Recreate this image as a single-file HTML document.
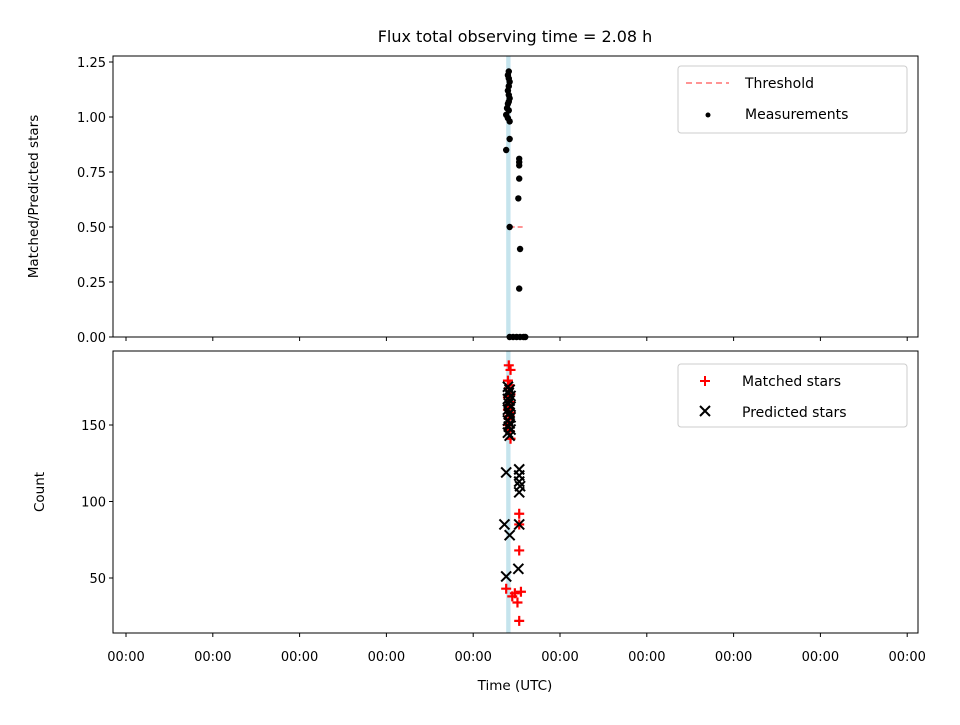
<!DOCTYPE html>
<html><head><meta charset="utf-8"><style>
body{margin:0;background:#fff}
svg{font-family:"DejaVu Sans","Liberation Sans",sans-serif}
</style></head><body>
<svg id="c" width="960" height="720" viewBox="0 0 960 720"></svg>
<script>
// x values: minutes relative to first tick (tick spacing = 10)
const tickVals=[0,10,20,30,40,50,60,70,80,90];
const tickLabels=["00:00","00:00","00:00","00:00","00:00","00:00","00:00","00:00","00:00","00:00"];
const topTicks=[0,0.25,0.5,0.75,1.0,1.25];
const topTickLabels=["0.00","0.25","0.50","0.75","1.00","1.25"];
const botTicks=[50,100,150];
const measX=[44.1,44.0,44.1,44.2,44.1,44.0,44.1,44.2,44.1,44.0,43.9,44.1,43.8,44.0,44.2,44.2,43.8,45.3,45.3,45.3,45.3,45.2,44.2,45.4,45.3,44.2,44.6,45.0,45.4,45.8,46.0];
const measY=[1.207,1.19,1.175,1.16,1.14,1.12,1.10,1.085,1.07,1.06,1.04,1.03,1.01,0.995,0.98,0.90,0.85,0.81,0.795,0.78,0.72,0.63,0.50,0.40,0.22,0,0,0,0,0,0];
const threshX=[44.2,45.7];
const threshY=[0.5,0.5];
const matchedX=[44.1,44.3,44.0,44.2,44.1,44.3,44.0,44.2,44.1,44.0,44.3,44.2,44.1,44.0,44.2,45.3,45.3,45.3,43.8,44.5,45.5,45.1,45.3,44.8,44.3];
const matchedY=[189,186,179,176,174,170,168,165,163,160,158,156,154,150,146,92,85,68,43,38,41,34,22,40,141];
const predX=[44.0,44.2,44.1,44.3,44.0,44.2,44.1,44.3,44.0,44.2,44.1,44.3,44.0,44.2,44.1,44.3,44.0,44.2,43.8,45.3,45.3,45.3,45.4,45.3,43.6,45.3,44.2,45.2,43.8];
const predY=[175,173,171,169,167,166,164,162,160,158,157,155,153,151,149,147,145,143,119,121,117,113,110,106,85,85,78,56,51];
const bandX=[43.8,44.3];

const svg=document.getElementById('c');
const NS='http://www.w3.org/2000/svg';
function mk(tag,attrs,parent){const e=document.createElementNS(NS,tag);for(const k in attrs)e.setAttribute(k,attrs[k]);(parent||svg).appendChild(e);return e;}
const xS=v=>126+v*8.68;
const L=113,R=918;
const tT=56,tB=337,bT=351,bB=633;
const yTop=v=>337-v*220;
const yBot=v=>425-(v-150)*1.53;

let t=mk('text',{x:515,y:42,'text-anchor':'middle','font-size':'16'});t.textContent='Flux total observing time = 2.08 h';


[[tT,tB,'top'],[bT,bB,'bottom']].forEach(([a,b,n])=>{
  const g=mk('g',{});
  const band=mk('rect',{x:xS(bandX[0]),y:a,width:xS(bandX[1])-xS(bandX[0]),height:b-a,fill:'#add8e6',opacity:0.7},g);
  
  tickVals.forEach((v,i)=>{
    mk('line',{x1:xS(v),x2:xS(v),y1:b,y2:b+4,stroke:'#000'},g);
    if(n==='bottom'){const tx=mk('text',{x:xS(v),y:b+28,'text-anchor':'middle','font-size':'13'},g);tx.textContent=tickLabels[i];
      }
  });
});
topTicks.forEach((v,i)=>{mk('line',{x1:L-4,x2:L,y1:yTop(v),y2:yTop(v),stroke:'#000'});
  const tx=mk('text',{x:L-7,y:yTop(v)+5,'text-anchor':'end','font-size':'13'});tx.textContent=topTickLabels[i];
  });
botTicks.forEach(v=>{mk('line',{x1:L-4,x2:L,y1:yBot(v),y2:yBot(v),stroke:'#000'});
  const tx=mk('text',{x:L-7,y:yBot(v)+5,'text-anchor':'end','font-size':'13'});tx.textContent=String(v);
  });

const th=mk('line',{x1:xS(threshX[0]),x2:xS(threshX[1]),y1:yTop(threshY[0]),y2:yTop(threshY[1]),stroke:'#ff7070','stroke-width':1.5,'stroke-dasharray':'5,3'});

measX.forEach((v,i)=>{const c=mk('circle',{cx:xS(v),cy:yTop(measY[i]),r:3.2,fill:'#000'});
  });
matchedX.forEach((v,i)=>{const x=xS(v),y=yBot(matchedY[i]);
  const p=mk('path',{d:`M${x-5},${y}H${x+5}M${x},${y-5}V${y+5}`,stroke:'#f00','stroke-width':2.2});
  });
predX.forEach((v,i)=>{const x=xS(v),y=yBot(predY[i]);
  const p=mk('path',{d:`M${x-5},${y-5}L${x+5},${y+5}M${x-5},${y+5}L${x+5},${y-5}`,stroke:'#000','stroke-width':2});
  });

[[tT,tB,'top'],[bT,bB,'bottom']].forEach(([a,b,n])=>{const r=mk('rect',{x:L,y:a,width:R-L,height:b-a,fill:'none',stroke:'#000','stroke-width':1});
  });

let yl=mk('text',{x:0,y:0,'text-anchor':'middle','font-size':'13.5',transform:`translate(38,${(tT+tB)/2}) rotate(-90)`});yl.textContent='Matched/Predicted stars';

let yl2=mk('text',{x:0,y:0,'text-anchor':'middle','font-size':'13.5',transform:`translate(44,${(bT+bB)/2}) rotate(-90)`});yl2.textContent='Count';

let xl=mk('text',{x:515,y:690,'text-anchor':'middle','font-size':'13.5'});xl.textContent='Time (UTC)';


function legend(y0,h,name,items){const g=mk('g',{});
  mk('rect',{x:678,y:y0,width:229,height:h,rx:3,fill:'#fff',stroke:'#ccc'},g);
  items.forEach((it,i)=>{const cy=y0+17+i*31;it.draw(g,cy);
    const tx=mk('text',{x:it.tx,y:cy+5,'font-size':'14'},g);tx.textContent=it.label;
    });}
legend(66,67,'top-legend',[
 {label:'Threshold',tx:745,draw:(g,y)=>mk('line',{x1:686,x2:729,y1:y,y2:y,stroke:'#ff7070','stroke-width':1.5,'stroke-dasharray':'6,4'},g)},
 {label:'Measurements',tx:745,draw:(g,y)=>mk('circle',{cx:708,cy:y+1,r:2.5,fill:'#000'},g)}]);
legend(364,63,'bottom-legend',[
 {label:'Matched stars',tx:742,draw:(g,y)=>mk('path',{d:`M700,${y}H710M705,${y-5}V${y+5}`,stroke:'#f00','stroke-width':2},g)},
 {label:'Predicted stars',tx:742,draw:(g,y)=>mk('path',{d:`M700,${y-6}L710,${y+4}M700,${y+4}L710,${y-6}`,stroke:'#000','stroke-width':2},g)}]);
</script>
</body></html>
